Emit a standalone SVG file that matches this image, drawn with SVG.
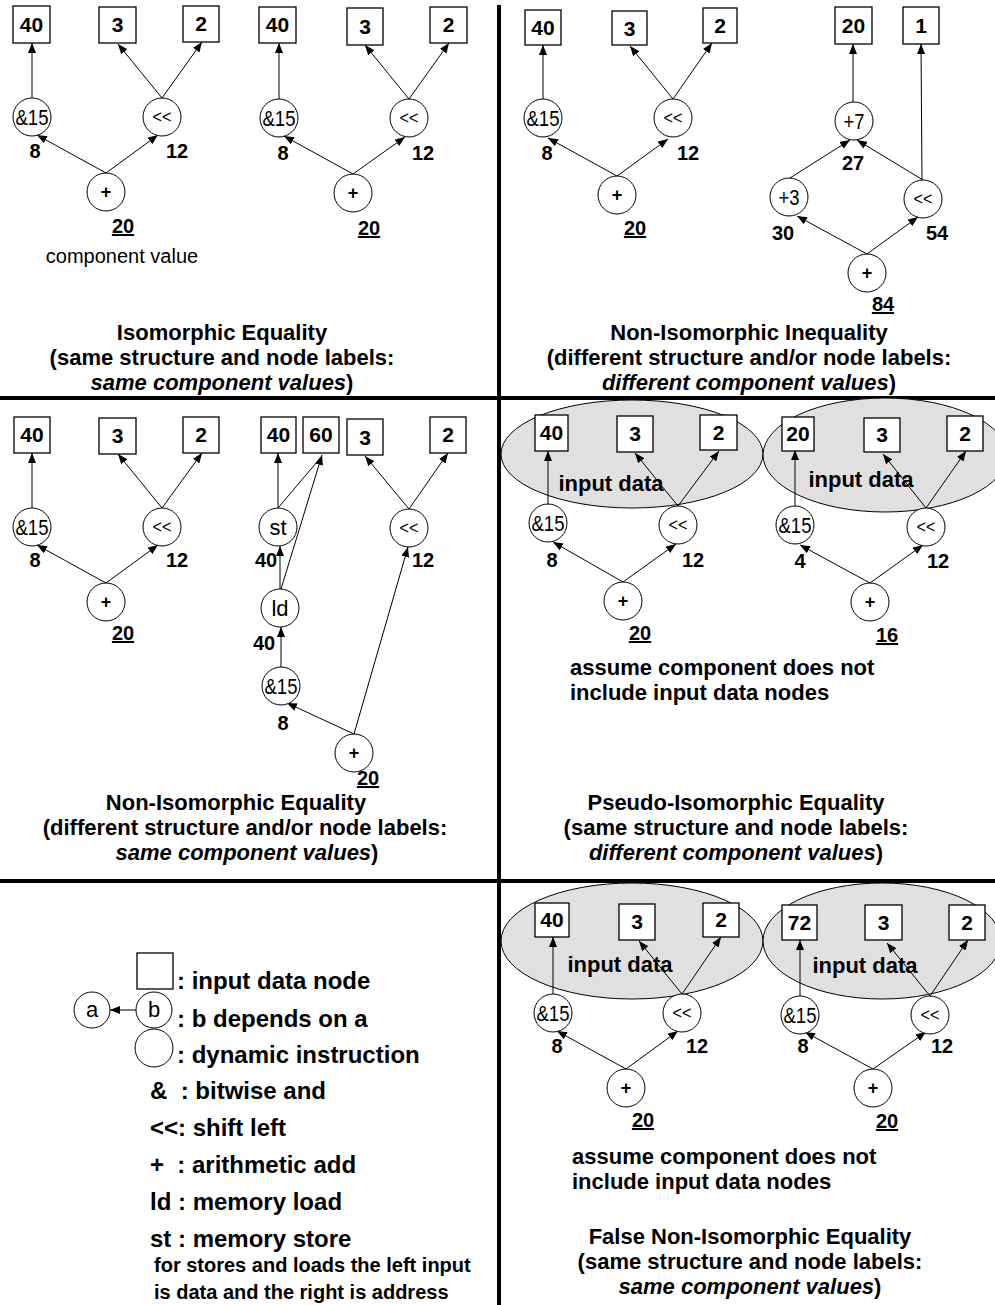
<svg xmlns="http://www.w3.org/2000/svg" width="995" height="1305" viewBox="0 0 995 1305">
<style>
.bx{fill:#fff;stroke:#000;stroke-width:1.3}
.nd{fill:#fff;stroke:#000;stroke-width:1}
.el{fill:#e0e0e0;stroke:#000;stroke-width:1}
.e{stroke:#000;stroke-width:1;fill:none;marker-end:url(#ah)}
.ln{stroke:#000;stroke-width:1;fill:none}
.div{stroke:#000;stroke-width:4}
text{font-family:"Liberation Sans",Arial,Helvetica,sans-serif}
.bt{font-weight:bold;font-size:21px;text-anchor:middle}
.op{font-size:22px;text-anchor:middle}
.sh{font-size:18px;text-anchor:middle}
.pl{font-size:18px;font-weight:bold;text-anchor:middle}
.v{font-weight:bold;font-size:20px;text-anchor:middle}
.u{text-decoration:underline}
.ttl{font-weight:bold;font-size:22px;text-anchor:middle}
.it{font-style:italic}
.note{font-weight:bold;font-size:22px}
.idt{font-weight:bold;font-size:22px;text-anchor:middle}
.leg{font-weight:bold;font-size:24px}
.sm{font-weight:bold;font-size:20px}
</style>
<defs>
<marker id="ah" markerUnits="userSpaceOnUse" markerWidth="10" markerHeight="8" refX="10" refY="4" orient="auto">
<path d="M0,0 L10,4 L0,8 z" fill="#000"/>
</marker>
</defs>

<g id="dividers">
<line class="div" x1="499" y1="5" x2="499" y2="1305"/>
<line class="div" x1="0" y1="398" x2="995" y2="398"/>
<line class="div" x1="0" y1="881" x2="995" y2="881"/>
</g>

<g id="input-data-regions">
<ellipse class="el" cx="632" cy="454" rx="131" ry="54"/>
<ellipse class="el" cx="885" cy="455" rx="122" ry="57"/>
<ellipse class="el" cx="632" cy="941" rx="131" ry="58"/>
<ellipse class="el" cx="882" cy="941" rx="119" ry="58"/>
<text class="idt" x="611" y="491">input data</text>
<text class="idt" x="861" y="487">input data</text>
<text class="idt" x="620" y="972">input data</text>
<text class="idt" x="865" y="973">input data</text>
</g>

<g id="connectors">
<line class="e" x1="106" y1="173" x2="37" y2="135"/>
<line class="e" x1="106" y1="173" x2="158" y2="135"/>
<line class="e" x1="32" y1="98" x2="32" y2="43"/>
<line class="e" x1="162" y1="98" x2="118" y2="44"/>
<line class="e" x1="162" y1="98" x2="202" y2="42"/>
<line class="e" x1="353" y1="174" x2="284" y2="136"/>
<line class="e" x1="353" y1="174" x2="405" y2="137"/>
<line class="e" x1="279" y1="99" x2="279" y2="43"/>
<line class="e" x1="409" y1="99" x2="365" y2="45"/>
<line class="e" x1="409" y1="99" x2="449" y2="43"/>
<line class="e" x1="617" y1="176" x2="548" y2="138"/>
<line class="e" x1="617" y1="176" x2="668" y2="139"/>
<line class="e" x1="543" y1="99" x2="543" y2="45"/>
<line class="e" x1="673" y1="99" x2="630" y2="46"/>
<line class="e" x1="673" y1="99" x2="712" y2="43"/>
<line class="e" x1="867" y1="254" x2="797" y2="216"/>
<line class="e" x1="867" y1="254" x2="918" y2="217"/>
<line class="e" x1="790" y1="178" x2="850" y2="140"/>
<line class="e" x1="923" y1="180" x2="857" y2="140"/>
<line class="e" x1="922" y1="180" x2="921" y2="44"/>
<line class="e" x1="853" y1="102" x2="853" y2="44"/>
<line class="e" x1="106" y1="583" x2="37" y2="545"/>
<line class="e" x1="106" y1="583" x2="158" y2="545"/>
<line class="e" x1="32" y1="508" x2="32" y2="453"/>
<line class="e" x1="162" y1="508" x2="118" y2="454"/>
<line class="e" x1="162" y1="508" x2="202" y2="453"/>
<line class="e" x1="278" y1="508" x2="278" y2="453"/>
<line class="ln" x1="278" y1="508" x2="322" y2="456"/>
<line class="e" x1="281" y1="589" x2="322" y2="455"/>
<line class="e" x1="280" y1="589" x2="280" y2="546"/>
<line class="e" x1="281" y1="667" x2="281" y2="627"/>
<line class="e" x1="354" y1="734" x2="287" y2="703"/>
<line class="e" x1="354" y1="734" x2="408" y2="547"/>
<line class="e" x1="409" y1="509" x2="365" y2="456"/>
<line class="e" x1="409" y1="509" x2="448" y2="453"/>
<line class="e" x1="548" y1="504" x2="548" y2="451"/>
<line class="e" x1="678" y1="506" x2="635" y2="453"/>
<line class="e" x1="678" y1="506" x2="719" y2="451"/>
<line class="e" x1="623" y1="582" x2="553" y2="542"/>
<line class="e" x1="623" y1="582" x2="676" y2="544"/>
<line class="e" x1="795" y1="506" x2="795" y2="450"/>
<line class="e" x1="926" y1="508" x2="883" y2="454"/>
<line class="e" x1="926" y1="508" x2="966" y2="451"/>
<line class="e" x1="870" y1="583" x2="800" y2="545"/>
<line class="e" x1="870" y1="583" x2="923" y2="545"/>
<line class="e" x1="553" y1="994" x2="553" y2="937"/>
<line class="e" x1="682" y1="994" x2="639" y2="941"/>
<line class="e" x1="682" y1="994" x2="721" y2="937"/>
<line class="e" x1="626" y1="1069" x2="557" y2="1031"/>
<line class="e" x1="626" y1="1069" x2="678" y2="1031"/>
<line class="e" x1="800" y1="996" x2="800" y2="940"/>
<line class="e" x1="930" y1="996" x2="887" y2="943"/>
<line class="e" x1="930" y1="996" x2="968" y2="940"/>
<line class="e" x1="873" y1="1069" x2="805" y2="1032"/>
<line class="e" x1="873" y1="1069" x2="926" y2="1032"/>
<line class="e" x1="136" y1="1010" x2="110" y2="1010"/>
</g>

<g id="A-box40"><rect class="bx" x="13" y="6" width="37" height="37"/><text class="bt" x="31.5" y="32">40</text></g>
<g id="A-box3"><rect class="bx" x="99" y="7" width="37" height="36"/><text class="bt" x="117.5" y="32">3</text></g>
<g id="A-box2"><rect class="bx" x="183" y="6" width="36" height="36"/><text class="bt" x="201" y="31">2</text></g>
<g id="A-and"><circle class="nd" cx="32" cy="117" r="19"/><text class="op" x="32" y="125" textLength="33" lengthAdjust="spacingAndGlyphs">&amp;15</text></g>
<g id="A-shl"><circle class="nd" cx="162" cy="117" r="19"/><text class="sh" x="162" y="123" textLength="19" lengthAdjust="spacingAndGlyphs">&lt;&lt;</text></g>
<g id="A-add"><circle class="nd" cx="106" cy="192" r="19"/><text class="pl" x="106" y="198">+</text></g>
<g id="A-labels">
<text class="v" x="35" y="158">8</text>
<text class="v" x="177" y="158">12</text>
<text class="v u" x="123" y="233">20</text>
<text x="122" y="263" font-size="20" text-anchor="middle">component value</text>
</g>

<g id="B-box40"><rect class="bx" x="259" y="7" width="37" height="36"/><text class="bt" x="277.5" y="32">40</text></g>
<g id="B-box3"><rect class="bx" x="347" y="8" width="36" height="37"/><text class="bt" x="365" y="34">3</text></g>
<g id="B-box2"><rect class="bx" x="430" y="7" width="37" height="36"/><text class="bt" x="448.5" y="32">2</text></g>
<g id="B-and"><circle class="nd" cx="279" cy="118" r="19"/><text class="op" x="279" y="126" textLength="33" lengthAdjust="spacingAndGlyphs">&amp;15</text></g>
<g id="B-shl"><circle class="nd" cx="409" cy="118" r="19"/><text class="sh" x="409" y="124" textLength="19" lengthAdjust="spacingAndGlyphs">&lt;&lt;</text></g>
<g id="B-add"><circle class="nd" cx="353" cy="193" r="19"/><text class="pl" x="353" y="199">+</text></g>
<g id="B-labels">
<text class="v" x="283" y="160">8</text>
<text class="v" x="423" y="160">12</text>
<text class="v u" x="369" y="235">20</text>
</g>

<g id="C-box40"><rect class="bx" x="525" y="10" width="36" height="35"/><text class="bt" x="543" y="35">40</text></g>
<g id="C-box3"><rect class="bx" x="612" y="11" width="35" height="34"/><text class="bt" x="629.5" y="36">3</text></g>
<g id="C-box2"><rect class="bx" x="703" y="8" width="34" height="35"/><text class="bt" x="720" y="33">2</text></g>
<g id="C-and"><circle class="nd" cx="543" cy="118" r="19"/><text class="op" x="543" y="126" textLength="33" lengthAdjust="spacingAndGlyphs">&amp;15</text></g>
<g id="C-shl"><circle class="nd" cx="673" cy="118" r="19"/><text class="sh" x="673" y="124" textLength="19" lengthAdjust="spacingAndGlyphs">&lt;&lt;</text></g>
<g id="C-add"><circle class="nd" cx="617" cy="195" r="19"/><text class="pl" x="617" y="201">+</text></g>
<g id="C-labels">
<text class="v" x="547" y="160">8</text>
<text class="v" x="688" y="160">12</text>
<text class="v u" x="635" y="235">20</text>
</g>

<g id="D-box20"><rect class="bx" x="835" y="7" width="37" height="37"/><text class="bt" x="853.5" y="33">20</text></g>
<g id="D-box1"><rect class="bx" x="903" y="7" width="36" height="37"/><text class="bt" x="921" y="33">1</text></g>
<g id="D-add7"><circle class="nd" cx="854" cy="121" r="19"/><text class="op" x="854" y="129" textLength="21" lengthAdjust="spacingAndGlyphs">+7</text></g>
<g id="D-add3"><circle class="nd" cx="789" cy="197" r="19"/><text class="op" x="789" y="205" textLength="21" lengthAdjust="spacingAndGlyphs">+3</text></g>
<g id="D-shl"><circle class="nd" cx="923" cy="199" r="19"/><text class="sh" x="923" y="205" textLength="19" lengthAdjust="spacingAndGlyphs">&lt;&lt;</text></g>
<g id="D-add"><circle class="nd" cx="867" cy="273" r="19"/><text class="pl" x="867" y="279">+</text></g>
<g id="D-labels">
<text class="v" x="853" y="170">27</text>
<text class="v" x="783" y="240">30</text>
<text class="v" x="937" y="240">54</text>
<text class="v u" x="883" y="311">84</text>
</g>

<g id="E-box40"><rect class="bx" x="14" y="417" width="36" height="36"/><text class="bt" x="32" y="442">40</text></g>
<g id="E-box3"><rect class="bx" x="99" y="418" width="37" height="36"/><text class="bt" x="117.5" y="443">3</text></g>
<g id="E-box2"><rect class="bx" x="183" y="417" width="36" height="36"/><text class="bt" x="201" y="442">2</text></g>
<g id="E-and"><circle class="nd" cx="32" cy="527" r="19"/><text class="op" x="32" y="535" textLength="33" lengthAdjust="spacingAndGlyphs">&amp;15</text></g>
<g id="E-shl"><circle class="nd" cx="162" cy="527" r="19"/><text class="sh" x="162" y="533" textLength="19" lengthAdjust="spacingAndGlyphs">&lt;&lt;</text></g>
<g id="E-add"><circle class="nd" cx="106" cy="602" r="19"/><text class="pl" x="106" y="608">+</text></g>
<g id="E-labels">
<text class="v" x="35" y="567">8</text>
<text class="v" x="177" y="567">12</text>
<text class="v u" x="123" y="640">20</text>
</g>

<g id="F-box40"><rect class="bx" x="261" y="417" width="35" height="36"/><text class="bt" x="278.5" y="442">40</text></g>
<g id="F-box60"><rect class="bx" x="303" y="417" width="36" height="36"/><text class="bt" x="321" y="442">60</text></g>
<g id="F-box3"><rect class="bx" x="347" y="419" width="36" height="36"/><text class="bt" x="365" y="445">3</text></g>
<g id="F-box2"><rect class="bx" x="430" y="417" width="36" height="36"/><text class="bt" x="448" y="442">2</text></g>
<g id="F-st"><circle class="nd" cx="278" cy="527" r="19"/><text class="op" x="278" y="535">st</text></g>
<g id="F-ld"><circle class="nd" cx="280" cy="608" r="19"/><text class="op" x="280" y="616">ld</text></g>
<g id="F-and"><circle class="nd" cx="281" cy="686" r="19"/><text class="op" x="281" y="694" textLength="33" lengthAdjust="spacingAndGlyphs">&amp;15</text></g>
<g id="F-shl"><circle class="nd" cx="409" cy="528" r="19"/><text class="sh" x="409" y="534" textLength="19" lengthAdjust="spacingAndGlyphs">&lt;&lt;</text></g>
<g id="F-add"><circle class="nd" cx="354" cy="753" r="19"/><text class="pl" x="354" y="759">+</text></g>
<g id="F-labels">
<text class="v" x="266" y="567">40</text>
<text class="v" x="423" y="567">12</text>
<text class="v" x="264" y="650">40</text>
<text class="v" x="283" y="730">8</text>
<text class="v u" x="368" y="785">20</text>
</g>

<g id="G-box40"><rect class="bx" x="535" y="415" width="33" height="36"/><text class="bt" x="551.5" y="440">40</text></g>
<g id="G-box3"><rect class="bx" x="617" y="416" width="36" height="36"/><text class="bt" x="635" y="441">3</text></g>
<g id="G-box2"><rect class="bx" x="700" y="415" width="37" height="35"/><text class="bt" x="718.5" y="440">2</text></g>
<g id="G-and"><circle class="nd" cx="548" cy="523" r="19"/><text class="op" x="548" y="531" textLength="33" lengthAdjust="spacingAndGlyphs">&amp;15</text></g>
<g id="G-shl"><circle class="nd" cx="678" cy="525" r="19"/><text class="sh" x="678" y="531" textLength="19" lengthAdjust="spacingAndGlyphs">&lt;&lt;</text></g>
<g id="G-add"><circle class="nd" cx="623" cy="601" r="19"/><text class="pl" x="623" y="607">+</text></g>
<g id="G-labels">
<text class="v" x="552" y="567">8</text>
<text class="v" x="693" y="567">12</text>
<text class="v u" x="640" y="640">20</text>
<text class="note" x="570" y="675">assume component does not</text>
<text class="note" x="570" y="700">include input data nodes</text>
</g>

<g id="H-box20"><rect class="bx" x="782" y="417" width="32" height="34"/><text class="bt" x="798" y="441">20</text></g>
<g id="H-box3"><rect class="bx" x="864" y="418" width="36" height="34"/><text class="bt" x="882" y="442">3</text></g>
<g id="H-box2"><rect class="bx" x="947" y="416" width="36" height="35"/><text class="bt" x="965" y="441">2</text></g>
<g id="H-and"><circle class="nd" cx="795" cy="525" r="19"/><text class="op" x="795" y="533" textLength="33" lengthAdjust="spacingAndGlyphs">&amp;15</text></g>
<g id="H-shl"><circle class="nd" cx="926" cy="527" r="19"/><text class="sh" x="926" y="533" textLength="19" lengthAdjust="spacingAndGlyphs">&lt;&lt;</text></g>
<g id="H-add"><circle class="nd" cx="870" cy="602" r="19"/><text class="pl" x="870" y="608">+</text></g>
<g id="H-labels">
<text class="v" x="800" y="568">4</text>
<text class="v" x="938" y="568">12</text>
<text class="v u" x="887" y="642">16</text>
</g>

<g id="I-box40"><rect class="bx" x="535" y="903" width="34" height="34"/><text class="bt" x="552" y="927">40</text></g>
<g id="I-box3"><rect class="bx" x="619" y="904" width="36" height="36"/><text class="bt" x="637" y="929">3</text></g>
<g id="I-box2"><rect class="bx" x="703" y="903" width="36" height="34"/><text class="bt" x="721" y="927">2</text></g>
<g id="I-and"><circle class="nd" cx="553" cy="1013" r="19"/><text class="op" x="553" y="1021" textLength="33" lengthAdjust="spacingAndGlyphs">&amp;15</text></g>
<g id="I-shl"><circle class="nd" cx="682" cy="1013" r="19"/><text class="sh" x="682" y="1019" textLength="19" lengthAdjust="spacingAndGlyphs">&lt;&lt;</text></g>
<g id="I-add"><circle class="nd" cx="626" cy="1088" r="19"/><text class="pl" x="626" y="1094">+</text></g>
<g id="I-labels">
<text class="v" x="557" y="1053">8</text>
<text class="v" x="697" y="1053">12</text>
<text class="v u" x="643" y="1127">20</text>
<text class="note" x="572" y="1164">assume component does not</text>
<text class="note" x="572" y="1189">include input data nodes</text>
</g>

<g id="J-box72"><rect class="bx" x="782" y="905" width="35" height="35"/><text class="bt" x="799.5" y="930">72</text></g>
<g id="J-box3"><rect class="bx" x="865" y="905" width="37" height="35"/><text class="bt" x="883.5" y="930">3</text></g>
<g id="J-box2"><rect class="bx" x="949" y="905" width="36" height="35"/><text class="bt" x="967" y="930">2</text></g>
<g id="J-and"><circle class="nd" cx="800" cy="1015" r="19"/><text class="op" x="800" y="1023" textLength="33" lengthAdjust="spacingAndGlyphs">&amp;15</text></g>
<g id="J-shl"><circle class="nd" cx="930" cy="1015" r="19"/><text class="sh" x="930" y="1021" textLength="19" lengthAdjust="spacingAndGlyphs">&lt;&lt;</text></g>
<g id="J-add"><circle class="nd" cx="873" cy="1088" r="19"/><text class="pl" x="873" y="1094">+</text></g>
<g id="J-labels">
<text class="v" x="803" y="1053">8</text>
<text class="v" x="942" y="1053">12</text>
<text class="v u" x="887" y="1128">20</text>
</g>

<g id="legend">
<rect class="bx" x="137" y="953" width="36" height="36" stroke="#444"/>
<circle class="nd" cx="92" cy="1010" r="18"/><text class="op" x="92" y="1017" font-size="20">a</text>
<circle class="nd" cx="154" cy="1010" r="18"/><text class="op" x="154" y="1017" font-size="20">b</text>
<circle class="nd" cx="154" cy="1048" r="19"/>
<text class="leg" x="177" y="989">: input data node</text>
<text class="leg" x="177" y="1027">: b depends on a</text>
<text class="leg" x="177" y="1063">: dynamic instruction</text>
<text class="leg" x="150" y="1099" xml:space="preserve">&amp;  : bitwise and</text>
<text class="leg" x="150" y="1136">&lt;&lt;: shift left</text>
<text class="leg" x="150" y="1173" xml:space="preserve">+  : arithmetic add</text>
<text class="leg" x="150" y="1210">ld : memory load</text>
<text class="leg" x="150" y="1247">st : memory store</text>
<text class="sm" x="154" y="1272">for stores and loads the left input</text>
<text class="sm" x="154" y="1299">is data and the right is address</text>
</g>

<g id="titles">
<text class="ttl" x="222" y="340">Isomorphic Equality</text>
<text class="ttl" x="222" y="365">(same structure and node labels:</text>
<text class="ttl" x="222" y="390"><tspan class="it">same component values</tspan>)</text>

<text class="ttl" x="749" y="340">Non-Isomorphic Inequality</text>
<text class="ttl" x="749" y="365">(different structure and/or node labels:</text>
<text class="ttl" x="749" y="390"><tspan class="it">different component values</tspan>)</text>

<text class="ttl" x="236" y="810">Non-Isomorphic Equality</text>
<text class="ttl" x="245" y="835">(different structure and/or node labels:</text>
<text class="ttl" x="247" y="860"><tspan class="it">same component values</tspan>)</text>

<text class="ttl" x="736" y="810">Pseudo-Isomorphic Equality</text>
<text class="ttl" x="736" y="835">(same structure and node labels:</text>
<text class="ttl" x="736" y="860"><tspan class="it">different component values</tspan>)</text>

<text class="ttl" x="750" y="1244">False Non-Isomorphic Equality</text>
<text class="ttl" x="750" y="1269">(same structure and node labels:</text>
<text class="ttl" x="750" y="1294"><tspan class="it">same component values</tspan>)</text>
</g>
</svg>
